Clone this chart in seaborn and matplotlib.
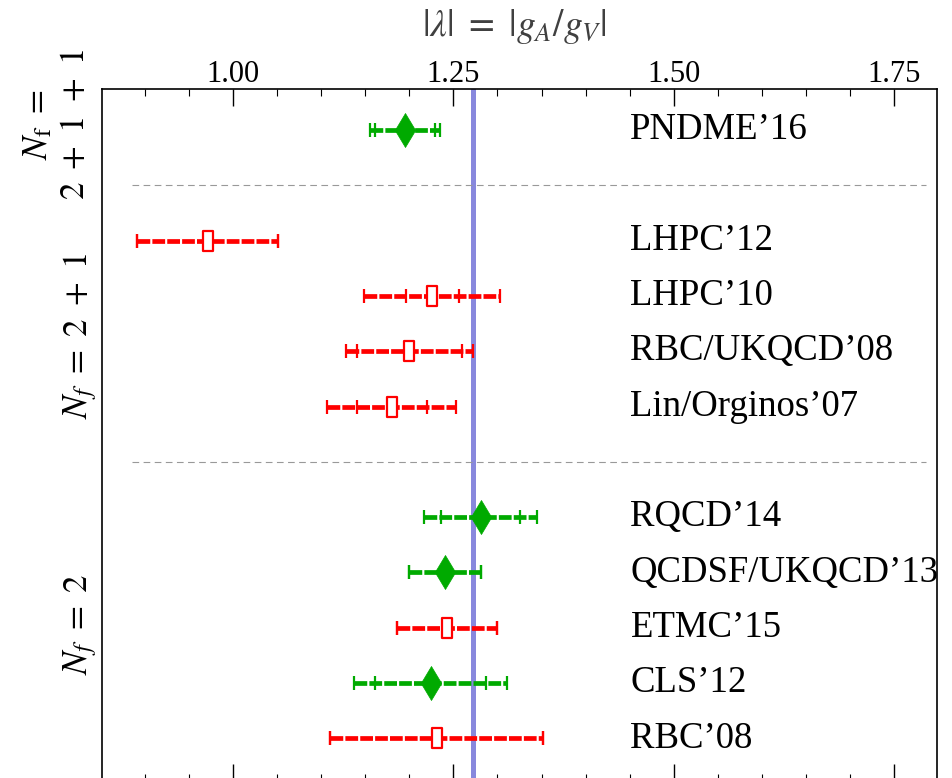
import matplotlib
matplotlib.use("Agg")
import matplotlib.pyplot as plt
import seaborn as sns
import pandas as pd
from matplotlib.path import Path

# ---- data ----
labels = ["PNDME\u201916", "LHPC\u201912", "LHPC\u201910", "RBC/UKQCD\u201908",
          "Lin/Orginos\u201907", "RQCD\u201914", "QCDSF/UKQCD\u201913",
          "ETMC\u201915", "CLS\u201912", "RBC\u201908"]
rows = [0, 2, 3, 4, 5, 7, 8, 9, 10, 11]
values = [1.195, 0.971, 1.226, 1.200, 1.180, 1.281, 1.240, 1.243, 1.224, 1.231]
stat_err = [0.034, 0.080, 0.030, 0.060, 0.040, 0.045, 0.041, 0.057, 0.063, 0.121]
total_err = [0.040, 0.080, 0.077, 0.072, 0.073, 0.064, 0.041, 0.057, 0.087, 0.121]
kind = ["green", "red", "red", "red", "red", "green", "green", "red", "green", "red"]
separators = [1, 6]
reference_value = 1.2723
xticks = [1.00, 1.25, 1.50, 1.75]
group_labels = [r"$N_{\mathrm{f}}\ =$" + "\n" + r"$2\ +\ 1\ +\ 1$",
                r"$N_f\ =\ 2\ +\ 1$", r"$N_f\ =\ 2$"]

df = pd.DataFrame({"label": labels, "row": rows, "value": values,
                   "stat": stat_err, "total": total_err, "kind": kind})

sns.set_theme(style="ticks")
plt.rcParams["font.family"] = ["Liberation Serif", "DejaVu Serif"]
plt.rcParams["mathtext.fontset"] = "stix"
plt.rcParams["text.color"] = "black"
plt.rcParams["xtick.color"] = "black"
plt.rcParams["xtick.labelcolor"] = "black"

colors = {"green": "#00aa00", "red": "#ff0000"}

fig = plt.figure(figsize=(9.53, 7.78), dpi=100)
ax = fig.add_axes([102 / 953, -3 / 778, 835 / 953, 692 / 778])

# reference vertical line
ax.axvline(reference_value, color="#8888dd", lw=3.6, zorder=1)

# separators
for s in separators:
    ax.hlines(s, 0.885, 1.786, colors="#999999", lw=0.8, linestyles=(0, (6, 4)), zorder=1)

for k in ["red", "green"]:
    sub = df[df["kind"] == k]
    eb = ax.errorbar(sub["value"], sub["row"], xerr=sub["total"], fmt="none",
                     ecolor=colors[k], elinewidth=3.4, capsize=4.7, capthick=1.6, zorder=2)
    for lc in eb[2]:
        lc.set_linestyle((0, (2.7, 0.45)))
        lc.set_capstyle("butt")
    ax.errorbar(sub["value"], sub["row"], xerr=sub["stat"], fmt="none",
                ecolor=colors[k], elinewidth=0, capsize=4.7, capthick=1.6, zorder=2)

rect = Path([(-0.5, -1.0), (0.5, -1.0), (0.5, 1.0), (-0.5, 1.0), (-0.5, -1.0)],
            [Path.MOVETO, Path.LINETO, Path.LINETO, Path.LINETO, Path.CLOSEPOLY])

sns.scatterplot(data=df[df["kind"] == "green"], x="value", y="row", ax=ax,
                marker="d", s=300, color=colors["green"], edgecolor=colors["green"],
                linewidth=0.5, zorder=3, legend=False)
sns.scatterplot(data=df[df["kind"] == "red"], x="value", y="row", ax=ax,
                marker=rect, s=190, facecolor="white", edgecolor=colors["red"],
                linewidth=1.6, zorder=3, legend=False)

for lab, r in zip(labels, rows):
    ax.text(1.451, r, lab, fontsize=26.5, va="center", ha="left", color="black",
            family=["Liberation Serif", "DejaVu Serif"])

ax.set_xlim(0.851, 1.799)
ax.set_ylim(11.77, -0.74)
ax.set_xticks(xticks)
ax.set_xticklabels([f"{t:.2f}" for t in xticks])
ax.set_xticks([t / 100 for t in range(90, 180, 5)], minor=True)
ax.set_yticks([])
ax.tick_params(axis="x", which="major", direction="in", length=12, width=1.0,
               top=True, bottom=True, labeltop=True, labelbottom=False,
               labelsize=22, pad=0, colors="black")
ax.tick_params(axis="x", which="minor", direction="in", length=5, width=0.8,
               top=True, bottom=True, colors="black")
ax.set_xlabel("")
ax.set_ylabel("")
for sp in ax.spines.values():
    sp.set_visible(True)
    sp.set_linewidth(1.2)
    sp.set_color("black")

fig.text(514 / 953, 1 - 27 / 778, r"$|\lambda|\ =\ |g_A/g_V|$", fontsize=27,
         color="#404040", ha="center", va="center")

# group labels
fig.text(57 / 953, 1 - 124 / 778, group_labels[0], fontsize=25, rotation=90,
         ha="center", va="center", multialignment="center", linespacing=1.15)
fig.text(80 / 953, 1 - 336 / 778, group_labels[1], fontsize=25, rotation=90,
         ha="center", va="center")
fig.text(80 / 953, 1 - 624 / 778, group_labels[2], fontsize=25, rotation=90,
         ha="center", va="center")

fig.savefig("out.png", dpi=100)
